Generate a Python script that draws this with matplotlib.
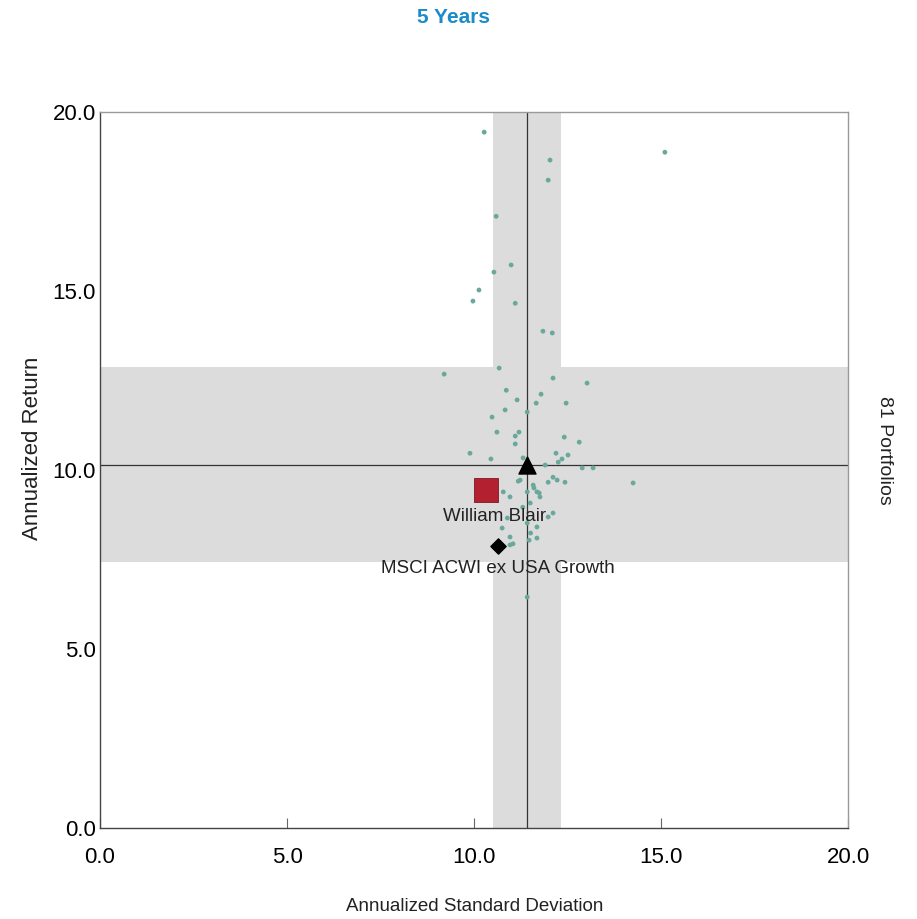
import matplotlib.pyplot as plt

# universe of portfolios (annualized std dev, annualized return)
peer_sd = [10.27, 12.03, 11.98, 10.59, 10.99, 10.53, 10.13, 9.97, 11.10, 11.84,
           12.09, 15.10, 14.25, 9.20, 10.67, 12.11, 13.02, 10.86, 11.79, 11.15,
           12.46, 11.66, 10.83, 11.42, 10.48, 10.61, 11.20, 11.10, 12.41, 12.81,
           11.10, 9.89, 12.19, 12.51, 10.45, 11.31, 12.35, 12.25, 11.90, 12.89,
           13.18, 11.23, 11.58, 11.98, 12.11, 12.43, 11.68, 11.42, 11.76, 10.78,
           10.96, 11.50, 11.98, 12.11, 10.75, 11.68, 11.42, 10.96, 11.68, 11.47,
           10.96, 11.42, 11.18, 12.22, 11.74, 10.89, 11.30, 11.51, 11.04, 11.60]
peer_ret = [19.44, 18.66, 18.10, 17.09, 15.73, 15.53, 15.03, 14.72, 14.66, 13.88,
            13.83, 18.88, 9.64, 12.68, 12.85, 12.57, 12.43, 12.23, 12.12, 11.96,
            11.87, 11.87, 11.68, 11.62, 11.48, 11.06, 11.06, 10.95, 10.92, 10.78,
            10.73, 10.47, 10.47, 10.42, 10.31, 10.34, 10.31, 10.22, 10.14, 10.06,
            10.06, 9.72, 9.58, 9.66, 9.80, 9.66, 9.39, 9.39, 9.25, 9.39,
            9.25, 9.08, 8.69, 8.80, 8.38, 8.41, 8.52, 8.13, 8.10, 8.04,
            7.91, 6.45, 9.69, 9.72, 9.36, 8.66, 8.96, 8.24, 7.94, 9.50]

# quartile bands and medians
sd_band = (10.51, 12.33)
ret_band = (7.43, 12.88)
median_sd = 11.42
median_ret = 10.14

fund_name = "William Blair"
fund_sd, fund_ret = 10.32, 9.44
bench_name = "MSCI ACWI ex USA Growth"
bench_sd, bench_ret = 10.64, 7.88

plt.rcParams['font.family'] = ['Liberation Sans', 'DejaVu Sans']

fig = plt.figure(figsize=(9.17, 9.19), dpi=100)
ax = fig.add_axes([0.109, 0.099, 0.816, 0.779])

band_col = '#dcdcdc'
ax.axvspan(sd_band[0], sd_band[1], color=band_col, lw=0, zorder=0)
ax.axhspan(ret_band[0], ret_band[1], color=band_col, lw=0, zorder=0)
ax.axvline(median_sd, color='#333333', lw=0.9, zorder=1)
ax.axhline(median_ret, color='#333333', lw=0.9, zorder=1)

ax.scatter(peer_sd, peer_ret, s=12, color='#6aa89c', edgecolors='none', zorder=2)
ax.scatter([median_sd], [median_ret], marker='^', s=150, color='black', zorder=4)
ax.scatter([fund_sd], [fund_ret], marker='s', s=280, color='#b3202f',
           edgecolors='#7a1a20', linewidths=0.6, zorder=4)
ax.scatter([bench_sd], [bench_ret], marker='D', s=60, color='black', zorder=4)

ax.annotate(fund_name, (fund_sd, fund_ret), xytext=(6, -19), textcoords='offset points',
            ha='center', va='center', fontsize=13.5, color='#222222', zorder=5)
ax.annotate(bench_name, (bench_sd, bench_ret), xytext=(0, -16), textcoords='offset points',
            ha='center', va='center', fontsize=13.5, color='#222222', zorder=5)

ax.set_xlim(0, 20)
ax.set_ylim(0, 20)
ticks = [0, 5, 10, 15, 20]
ax.set_xticks(ticks)
ax.set_yticks(ticks)
ax.set_xticklabels([f"{t:.1f}" for t in ticks])
ax.set_yticklabels([f"{t:.1f}" for t in ticks])
ax.tick_params(axis='x', direction='in', length=7, width=0.8, color='#666666',
               labelsize=16, pad=14)
ax.tick_params(axis='y', direction='in', length=0, labelsize=16, pad=3)

for side in ['left', 'bottom']:
    ax.spines[side].set_color('#444444')
    ax.spines[side].set_linewidth(1.0)
for side in ['top', 'right']:
    ax.spines[side].set_color('#9a9a9a')
    ax.spines[side].set_linewidth(1.0)

fig.text(0.518, 0.014, "Annualized Standard Deviation", ha='center', va='center',
         fontsize=13.5, color='#222222')
fig.text(0.035, 0.512, "Annualized Return", ha='center', va='center', rotation=90,
         fontsize=16, color='#222222')

fig.text(0.495, 0.981, "5 Years", ha='center', va='center', fontsize=15,
         fontweight='bold', color='#1a8cc9')
fig.text(0.965, 0.51, "81 Portfolios", ha='center', va='center', rotation=270,
         fontsize=14, color='#222222')

plt.savefig("out.png", dpi=100)
